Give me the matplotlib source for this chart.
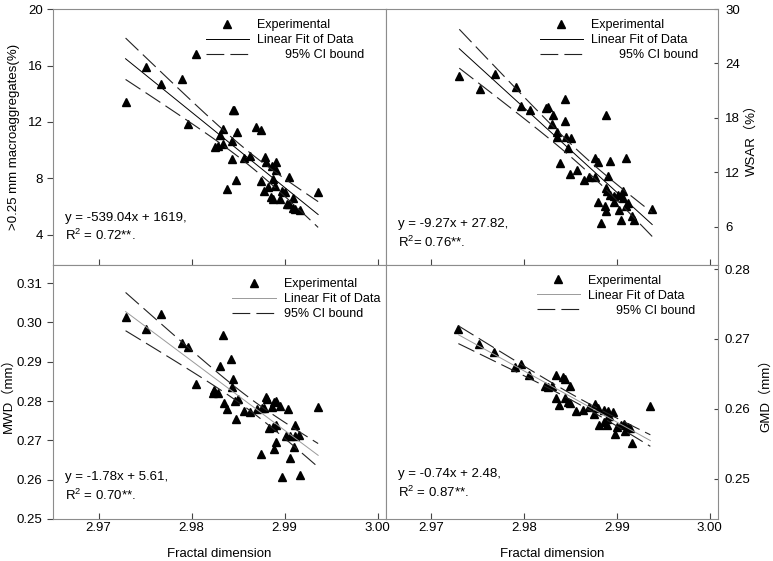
import numpy as np
import matplotlib
matplotlib.use('Agg')
import matplotlib.pyplot as plt
from matplotlib.ticker import FormatStrFormatter

plt.rcParams['font.family'] = ['Liberation Sans', 'Noto Sans CJK SC']
plt.rcParams['mathtext.fontset'] = 'custom'
plt.rcParams['mathtext.rm'] = 'Liberation Sans'
plt.rcParams['mathtext.it'] = 'Liberation Sans:italic'

# >0.25 mm macroaggregates (%)
x_macro = [2.9729, 2.9751, 2.9767, 2.9790, 2.9805, 2.9796, 2.9825, 2.9828, 2.9834, 2.9830,
           2.9834, 2.9843, 2.9844, 2.9846, 2.9849, 2.9843, 2.9838, 2.9848, 2.9856, 2.9863,
           2.9869, 2.9875, 2.9879, 2.9880, 2.9875, 2.9878, 2.9882, 2.9886, 2.9887, 2.9891,
           2.9891, 2.9890, 2.9885, 2.9887, 2.9895, 2.9897, 2.9900, 2.9905, 2.9902, 2.9905,
           2.9909, 2.9909, 2.9911, 2.9916, 2.9936]
y_macro = [13.40, 15.91, 14.70, 15.03, 16.81, 11.86, 10.23, 10.30, 10.45, 11.09,
           11.51, 10.64, 12.86, 12.88, 11.30, 9.36, 7.26, 7.86, 9.43, 9.60,
           11.62, 11.40, 9.55, 9.15, 7.80, 7.14, 7.42, 8.88, 7.97, 9.19,
           8.63, 7.45, 6.68, 6.52, 6.57, 7.14, 7.05, 8.10, 6.22, 6.17,
           6.60, 5.89, 5.82, 5.77, 7.03]

# WSAR (%)
x_wsar = [2.9730, 2.9752, 2.9768, 2.9791, 2.9797, 2.9806, 2.9823, 2.9826, 2.9831, 2.9830,
          2.9835, 2.9835, 2.9844, 2.9844, 2.9845, 2.9850, 2.9847, 2.9839, 2.9849, 2.9857,
          2.9864, 2.9870, 2.9876, 2.9876, 2.9880, 2.9888, 2.9892, 2.9890, 2.9910, 2.9888,
          2.9889, 2.9892, 2.9897, 2.9901, 2.9907, 2.9907, 2.9897, 2.9902, 2.9910, 2.9912,
          2.9880, 2.9887, 2.9888, 2.9883, 2.9904, 2.9916, 2.9918, 2.9938]
y_wsar = [22.64, 21.17, 22.86, 21.39, 19.33, 18.89, 19.07, 19.18, 18.33, 17.34,
          16.42, 15.87, 20.06, 17.67, 15.87, 15.76, 14.65, 13.00, 11.78, 12.19,
          11.16, 11.41, 11.45, 13.55, 13.11, 18.26, 13.25, 11.60, 13.55, 10.24,
          9.87, 9.50, 9.32, 9.43, 9.87, 9.13, 8.65, 7.77, 8.21, 8.58,
          8.69, 8.21, 7.66, 6.37, 6.74, 7.18, 6.67, 7.95]

# MWD (mm)
x_mwd = [2.9729, 2.9751, 2.9767, 2.9790, 2.9796, 2.9805, 2.9834, 2.9830, 2.9842, 2.9844,
         2.9843, 2.9824, 2.9823, 2.9828, 2.9835, 2.9838, 2.9847, 2.9850, 2.9848, 2.9856,
         2.9863, 2.9870, 2.9876, 2.9880, 2.9881, 2.9878, 2.9886, 2.9889, 2.9891, 2.9895,
         2.9904, 2.9883, 2.9887, 2.9891, 2.9911, 2.9901, 2.9906, 2.9911, 2.9915, 2.9891,
         2.9889, 2.9910, 2.9906, 2.9875, 2.9897, 2.9917, 2.9936]
y_mwd = [0.3015, 0.2984, 0.3022, 0.2948, 0.2937, 0.2844, 0.2967, 0.2890, 0.2908, 0.2856,
         0.2835, 0.2827, 0.2820, 0.2820, 0.2795, 0.2781, 0.2799, 0.2805, 0.2754, 0.2775,
         0.2771, 0.2780, 0.2782, 0.2810, 0.2805, 0.2782, 0.2786, 0.2798, 0.2800, 0.2788,
         0.2780, 0.2731, 0.2734, 0.2740, 0.2740, 0.2712, 0.2712, 0.2712, 0.2714, 0.2697,
         0.2679, 0.2683, 0.2655, 0.2665, 0.2608, 0.2613, 0.2786]

# GMD (mm)
x_gmd = [2.9729, 2.9751, 2.9767, 2.9790, 2.9796, 2.9805, 2.9822, 2.9826, 2.9830, 2.9834,
         2.9842, 2.9844, 2.9849, 2.9834, 2.9838, 2.9844, 2.9847, 2.9849, 2.9856, 2.9863,
         2.9870, 2.9876, 2.9880, 2.9875, 2.9886, 2.9890, 2.9896, 2.9889, 2.9891, 2.9886,
         2.9881, 2.9889, 2.9900, 2.9904, 2.9908, 2.9912, 2.9914, 2.9898, 2.9909, 2.9916,
         2.9936]
y_gmd = [0.2714, 0.2693, 0.2682, 0.2660, 0.2664, 0.2649, 0.2632, 0.2631, 0.2633, 0.2648,
         0.2646, 0.2643, 0.2633, 0.2615, 0.2605, 0.2616, 0.2609, 0.2608, 0.2597, 0.2598,
         0.2603, 0.2607, 0.2601, 0.2592, 0.2598, 0.2597, 0.2596, 0.2586, 0.2590, 0.2581,
         0.2576, 0.2577, 0.2574, 0.2577, 0.2578, 0.2574, 0.2572, 0.2564, 0.2568, 0.2551,
         0.2604]

x_ticks = [2.97, 2.98, 2.99, 3.00]
T95 = 2.01  # t value, 95%, ~45 df
FRAME = '#8c8c8c'


def fit_band(x, y):
    x = np.asarray(x)
    y = np.asarray(y)
    slope, icpt = np.polyfit(x, y, 1)
    xs = np.linspace(x.min(), x.max(), 100)
    yfit = slope * xs + icpt
    resid = y - (slope * x + icpt)
    n = len(x)
    s = np.sqrt(np.sum(resid ** 2) / (n - 2))
    sxx = np.sum((x - x.mean()) ** 2)
    half = T95 * s * np.sqrt(1.0 / n + (xs - x.mean()) ** 2 / sxx)
    return xs, yfit, yfit + half, yfit - half


def draw_panel(ax, x, y, ylim, yticks, yfmt, ylabel, ylabel_x, fit_color, ci_label,
               leg_anchor, eq_text, eq_y, right=False, bottom=False):
    xs, yfit, upper, lower = fit_band(x, y)
    dash = (0, (16, 5.5))
    ax.plot(x, y, linestyle='none', marker='^', ms=5.6, color='black', label='Experimental')
    ax.plot(xs, yfit, color=fit_color, lw=0.7, label='Linear Fit of Data')
    ax.plot(xs, upper, color='#222222', lw=0.8, linestyle=dash, label=ci_label)
    ax.plot(xs, lower, color='#222222', lw=0.8, linestyle=dash)

    ax.set_xlim(2.9651, 3.0009)
    ax.set_ylim(*ylim)
    ax.set_xticks(x_ticks)
    ax.set_yticks(yticks)
    ax.yaxis.set_major_formatter(FormatStrFormatter(yfmt))
    ax.xaxis.set_major_formatter(FormatStrFormatter('%.2f'))

    for sp in ax.spines.values():
        sp.set_color(FRAME)
        sp.set_linewidth(0.8)
    ax.tick_params(axis='x', direction='in', length=4, color='#444444', pad=2,
                   labelsize=9.5, labelbottom=bottom)
    if right:
        ax.yaxis.tick_right()
        ax.yaxis.set_label_position('right')
        ax.tick_params(axis='y', direction='in', length=3, color='#444444', labelsize=9.5, pad=5)
    else:
        ax.tick_params(axis='y', direction='out', length=4, color='#444444', labelsize=9.5)
    ax.set_ylabel(ylabel, fontsize=9.5)
    ax.yaxis.set_label_coords(ylabel_x, 0.5)
    if bottom:
        ax.set_xlabel('Fractal dimension', fontsize=9.5, labelpad=10)

    ax.legend(loc='upper right', bbox_to_anchor=leg_anchor, frameon=False, fontsize=9,
              handlelength=3.5, labelspacing=0.25, handletextpad=0.6, borderaxespad=0)
    ax.text(0.037, eq_y, eq_text, transform=ax.transAxes, fontsize=9.5,
            va='center', ha='left', linespacing=1.35)


def main() -> int:
    fig = plt.figure(figsize=(7.73, 5.61), dpi=100)
    ax_tl = fig.add_axes([0.0686, 0.5276, 0.4308, 0.4563])
    ax_tr = fig.add_axes([0.4994, 0.5276, 0.4295, 0.4563])
    ax_bl = fig.add_axes([0.0686, 0.0749, 0.4308, 0.4527])
    ax_br = fig.add_axes([0.4994, 0.0749, 0.4295, 0.4527])

    indent = '        95% CI bound'
    draw_panel(ax_tl, x_macro, y_macro, (1.87, 20), [4, 8, 12, 16, 20], '%d',
               '>0.25 mm macroaggregates(%)', -0.099, 'black', indent, (0.949, 0.98),
               'y = -539.04x + 1619,\nR$^2$ = 0.72**.', 0.147)
    draw_panel(ax_tr, x_wsar, y_wsar, (1.75, 30), [6, 12, 18, 24, 30], '%d',
               'WSAR（%）', 1.081, 'black', indent, (0.955, 0.98),
               'y = -9.27x + 27.82,\nR$^2$= 0.76**.', 0.121, right=True)
    draw_panel(ax_bl, x_mwd, y_mwd, (0.25, 0.3146), [0.25, 0.26, 0.27, 0.28, 0.29, 0.30, 0.31],
               '%.2f', 'MWD（mm）', -0.114, '#9a9a9a', '95% CI bound', (0.997, 0.968),
               'y = -1.78x + 5.61,\nR$^2$ = 0.70**.', 0.126, bottom=True)
    draw_panel(ax_br, x_gmd, y_gmd, (0.2442, 0.2806), [0.25, 0.26, 0.27, 0.28], '%.2f',
               'GMD（mm）', 1.124, '#9a9a9a', indent, (0.946, 0.982),
               'y = -0.74x + 2.48,\nR$^2$ = 0.87**.', 0.138, right=True, bottom=True)

    fig.savefig('out.png', dpi=100)
    return 0


if __name__ == "__main__":
    main()
